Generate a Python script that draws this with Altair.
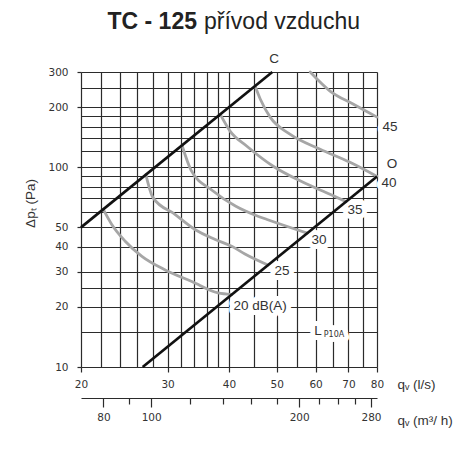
import altair as alt
import pandas as pd

# ---------------- axis values ----------------
q_grid = [20, 22, 24, 26, 28, 30, 32, 34, 36, 38, 40, 45, 50, 55, 60, 65, 70, 75, 80]
q_labels = [20, 30, 40, 50, 60, 70, 80]
p_grid = [10, 15, 20, 25, 30, 40, 50, 60, 70, 80, 90, 100, 120, 140, 160, 180, 200, 250, 300]
p_labels = [10, 20, 30, 40, 50, 100, 200, 300]
m3h_ticks = [80, 90, 100, 120, 140, 160, 180, 200, 220, 240, 260, 280]
m3h_labels = [80, 100, 200, 280]

# ---------------- characteristic lines C and O ----------------
line_C_q = [20, 49]
line_C_p = [50, 300]
line_O_q = [26.7, 80]
line_O_p = [10, 90]

# ---------------- sound level curves (dB(A)) ----------------
curve_20_q = [22.2, 23.1, 24.6, 26.6, 29.6, 33.6, 38.0, 40.5]
curve_20_p = [61.5, 51.7, 42.6, 35.8, 30.7, 26.8, 23.5, 23.1]
curve_25_q = [27.1, 28.0, 31.1, 34.1, 37.5, 40.6, 43.1, 48.0]
curve_25_p = [91.9, 70.7, 58.0, 48.8, 43.5, 40.1, 36.8, 32.4]
curve_30_q = [32.1, 33.5, 37.0, 41.3, 45.8, 47.8, 57.7]
curve_30_p = [128.9, 96.5, 76.5, 63.8, 56.9, 54.8, 46.8]
curve_35_q = [38.4, 40.2, 43.5, 49.2, 56.6, 64.2, 69.2]
curve_35_p = [183.9, 151.7, 127.5, 101.2, 84.1, 73.2, 67.3]
curve_40_q = [45.2, 46.3, 48.5, 53.2, 61.3, 70.5, 80.0]
curve_40_p = [255.2, 219.6, 178.3, 146.5, 123.2, 105.9, 90.0]
curve_45_q = [58.5, 64.2, 71.5, 80.0]
curve_45_p = [300, 240.9, 207.3, 178.3]

# ---------------- annotations ----------------
ann_text = ["C", "O", "45", "40", "35", "30", "25", "20 dB(A)", "L"]
ann_q = [49.4, 85.8, 85.0, 84.6, 72.2, 61.0, 51.3, 46.3, 60.7]
ann_p = [349, 103.5, 158.9, 83.1, 60.8, 43.0, 30.4, 20.3, 15.17]
sub_text = ["P10A"]
sub_q = [65.4]
sub_p = [14.48]

title_bold = "TC - 125"
title_rest = "přívod vzduchu"

# ---------------- tables ----------------
lines_df = pd.DataFrame(
    [{"line": "C", "q": q, "p": p, "i": i} for i, (q, p) in enumerate(zip(line_C_q, line_C_p))]
    + [{"line": "O", "q": q, "p": p, "i": i} for i, (q, p) in enumerate(zip(line_O_q, line_O_p))]
)
curves = {
    "20": (curve_20_q, curve_20_p),
    "25": (curve_25_q, curve_25_p),
    "30": (curve_30_q, curve_30_p),
    "35": (curve_35_q, curve_35_p),
    "40": (curve_40_q, curve_40_p),
    "45": (curve_45_q, curve_45_p),
}
curves_df = pd.DataFrame(
    [{"level": k, "q": q, "p": p, "i": i}
     for k, (qs, ps) in curves.items() for i, (q, p) in enumerate(zip(qs, ps))]
)
ann_df = pd.DataFrame({"t": ann_text, "q": ann_q, "p": ann_p})
sub_df = pd.DataFrame({"t": sub_text, "q": sub_q, "p": sub_p})
m3h_df = pd.DataFrame({"m3h": m3h_ticks})

GRID = "#2b2b2b"
TXT = "#333333"


def in_list(vals):
    return "indexof([" + ",".join(str(v) for v in vals) + "], datum.value) >= 0"


x_axis = alt.Axis(
    values=q_grid,
    labelExpr=in_list(q_labels) + " ? '' + datum.value : ''",
    grid=True, gridColor=GRID, gridWidth=1.2, gridOpacity=1,
    domain=False,
    tickColor=GRID, tickSize=5, tickWidth=1.2,
    tickOpacity={"condition": {"test": in_list(q_labels), "value": 1}, "value": 0},
    labelFont="DejaVu Sans", labelFontSize=10.5, labelColor=TXT, labelPadding=7,
    labelFlush=False, labelOverlap=False, labelBound=False,
    title="qᵥ (l/s)", titleX=316, titleY=17, titleAlign="left", titleBaseline="middle",
    titleAngle=0, titleFont="Liberation Sans", titleFontSize=13.5, titleFontWeight="normal",
    titleColor=TXT,
)
y_axis = alt.Axis(
    values=p_grid,
    labelExpr=in_list(p_labels) + " ? '' + datum.value : ''",
    grid=True, gridColor=GRID, gridWidth=1.2, gridOpacity=1,
    domain=False,
    tickColor=GRID, tickSize=4, tickWidth=1.2,
    tickOpacity={"condition": {"test": in_list(p_labels), "value": 1}, "value": 0},
    labelFont="DejaVu Sans", labelFontSize=10.5, labelColor=TXT, labelPadding=9,
    labelFlush=False, labelOverlap=False, labelBound=False,
    title="Δpₜ (Pa)", titleX=-51, titleY=131, titleAlign="center", titleBaseline="middle",
    titleAngle=270, titleFont="Liberation Sans", titleFontSize=13.5, titleFontWeight="normal",
    titleColor=TXT,
)

x_enc = alt.X("q:Q", scale=alt.Scale(type="log", domain=[20, 80], nice=False), axis=x_axis)
y_enc = alt.Y("p:Q", scale=alt.Scale(type="log", domain=[10, 300], nice=False), axis=y_axis)

black_lines = alt.Chart(lines_df).mark_line(color="#111111", strokeWidth=2.7).encode(
    x=x_enc, y=y_enc, detail="line:N", order="i:Q"
)

halo = alt.Chart(ann_df).mark_text(
    font="Liberation Sans", fontSize=13.5, fill="white", stroke="white", strokeWidth=10,
    strokeJoin="round", align="center", baseline="middle"
).encode(x=x_enc, y=y_enc, text="t:N")

halo_sub = alt.Chart(sub_df).mark_text(
    font="DejaVu Sans", fontSize=8, fill="white", stroke="white", strokeWidth=10,
    strokeJoin="round", align="center", baseline="middle"
).encode(x=x_enc, y=y_enc, text="t:N")

gray = alt.Chart(curves_df).mark_line(
    color="#a6a6a6", strokeWidth=2.8, interpolate="monotone", strokeCap="round"
).encode(x=x_enc, y=y_enc, detail="level:N", order="i:Q")

labels = alt.Chart(ann_df).mark_text(
    font="Liberation Sans", fontSize=13.5, color=TXT, align="center", baseline="middle"
).encode(x=x_enc, y=y_enc, text="t:N")

labels_sub = alt.Chart(sub_df).mark_text(
    font="DejaVu Sans", fontSize=8, color=TXT, align="center", baseline="middle"
).encode(x=x_enc, y=y_enc, text="t:N")

title_df = pd.DataFrame({"a": [0]})
t1 = alt.Chart(title_df).mark_text(
    text=title_bold, font="Liberation Sans", fontSize=23, fontWeight="bold", color="#222222",
    align="right", baseline="alphabetic"
).encode(x=alt.value(116), y=alt.value(-43))
t2 = alt.Chart(title_df).mark_text(
    text=title_rest, font="Liberation Sans", fontSize=23, color="#222222",
    align="left", baseline="alphabetic"
).encode(x=alt.value(123), y=alt.value(-43))

m3h_axis = alt.Axis(
    orient="bottom", offset=31, values=m3h_ticks,
    labelExpr=in_list(m3h_labels) + " ? '' + datum.value : ''",
    grid=False, domain=True, domainColor=GRID, domainWidth=1.2,
    tickColor=GRID, tickSize=9, tickWidth=1.2,
    tickDash={"condition": {"test": in_list(m3h_labels), "value": [20, 0]}, "value": [6, 20]},
    labelFont="DejaVu Sans", labelFontSize=10.5, labelColor=TXT, labelPadding=5,
    labelFlush=False, labelOverlap=False, labelBound=False,
    title="qᵥ (m³/ h)", titleX=316, titleY=22, titleAlign="left", titleBaseline="middle",
    titleAngle=0, titleFont="Liberation Sans", titleFontSize=13.5, titleFontWeight="normal",
    titleColor=TXT,
)
m3h_layer = alt.Chart(m3h_df).mark_point(opacity=0).encode(
    x=alt.X("m3h:Q", scale=alt.Scale(type="log", domain=[72, 288], nice=False), axis=m3h_axis)
)

main = alt.layer(halo, halo_sub, gray, black_lines, labels, labels_sub, t1, t2)

chart = alt.layer(main, m3h_layer).resolve_scale(x="independent").properties(
    width=296, height=295,
    padding={"left": 73, "top": 64, "right": 81, "bottom": 85},
    autosize=alt.AutoSizeParams(type="none"),
).configure_view(stroke=None).configure(background="white")

chart.save("out.html", embed_options={"renderer": "svg", "actions": False})
